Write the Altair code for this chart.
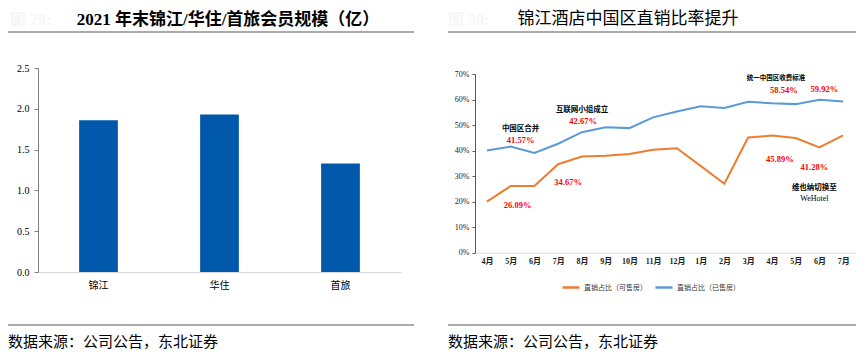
import altair as alt
import pandas as pd

# ---------------- data ----------------
brands = ["锦江", "华住", "首旅"]
members = [1.86, 1.93, 1.33]

months = ["4月", "5月", "6月", "7月", "8月", "9月", "10月", "11月", "12月",
          "1月", "2月", "3月", "4月", "5月", "6月", "7月"]
sellable = [20.0, 26.09, 26.10, 34.67, 37.7, 38.0, 38.7, 40.3, 40.9,
            34.0, 27.0, 45.1, 45.89, 44.9, 41.28, 46.0]
sold = [40.0, 41.57, 39.1, 42.67, 47.2, 49.1, 48.8, 53.0, 55.3,
        57.4, 56.7, 59.1, 58.54, 58.2, 59.92, 59.2]
series_names = ["直销占比（可售房）", "直销占比（已售房）"]
series_colors = ["#ED7D31", "#5B9BD5"]

left_title = "2021 年末锦江/华住/首旅会员规模（亿）"
right_title = "锦江酒店中国区直销比率提升"
source_text = "数据来源：公司公告，东北证券"
left_mark = "图 29:"
right_mark = "图 30:"

SERIF = "Liberation Serif, Noto Sans CJK SC"
CJK = "Noto Sans CJK SC"

# ---------------- left: bar chart ----------------
bar_df = pd.DataFrame({"brand": brands, "members": members})
bars = alt.Chart(bar_df).mark_bar(color="#0058AA").encode(
    x=alt.X("brand:N", sort=brands, title=None,
            scale=alt.Scale(range=[30, 393], paddingInner=0.68, paddingOuter=0.34),
            axis=alt.Axis(orient="bottom", offset=-76, domainColor="#d9d9d9",
                          ticks=False, labelAngle=0, labelFont=SERIF, labelFontSize=10,
                          labelColor="#000000", labelPadding=8)),
    y=alt.Y("members:Q", title=None,
            scale=alt.Scale(domain=[0, 2.5], range=[264, 60], nice=False, zero=True),
            axis=alt.Axis(orient="left", offset=-30, values=[0, 0.5, 1, 1.5, 2, 2.5],
                          format=".1f", grid=False, domainColor="#7f7f7f",
                          tickColor="#7f7f7f", tickSize=4, labelFont=SERIF,
                          labelFontSize=10, labelColor="#000000", labelPadding=5)),
)

# ---------------- right: line chart ----------------
idx = list(range(len(months)))
line_df = pd.DataFrame({
    "idx": idx * 2,
    "pct": [v / 100 for v in sellable] + [v / 100 for v in sold],
    "series": [series_names[0]] * len(idx) + [series_names[1]] * len(idx),
})
label_expr = "[" + ",".join("'%s'" % m for m in months) + "][datum.value]"

xr = alt.X("idx:Q", title=None,
           scale=alt.Scale(domain=[-0.5, 15.5], range=[467, 847], nice=False, zero=False),
           axis=alt.Axis(orient="bottom", offset=-95.3, values=idx, labelExpr=label_expr,
                         grid=False, ticks=False, domainColor="#d9d9d9", labelFont=SERIF,
                         labelFontSize=8, labelFontWeight="bold", labelPadding=5,
                         labelColor="#222222", labelFlush=False, labelOverlap=False))
yr = alt.Y("pct:Q", title=None,
           scale=alt.Scale(domain=[0, 0.7], range=[244.7, 66], nice=False),
           axis=alt.Axis(orient="left", offset=-467, values=[i / 10 for i in range(8)],
                         format=".0%", grid=False, domainColor="#595959",
                         tickColor="#595959", tickSize=3, labelFont=SERIF,
                         labelFontSize=8, labelPadding=3, labelColor="#222222"))

lines = alt.Chart(line_df).mark_line(strokeWidth=2).encode(
    x=xr, y=yr,
    color=alt.Color("series:N",
                    scale=alt.Scale(domain=series_names, range=series_colors),
                    legend=alt.Legend(orient="none", legendX=553, legendY=269.5,
                                      direction="horizontal", title=None,
                                      symbolType="stroke", symbolStrokeWidth=2.5,
                                      symbolSize=289, labelFont=CJK, labelFontSize=7,
                                      labelColor="#333333", labelOffset=3,
                                      columnPadding=3, padding=0)),
)


def note(series, i, text, dx, dy, color="#000000", size=8, weight="bold", font=CJK):
    df = pd.DataFrame({"idx": [i], "pct": [series[i] / 100]})
    return alt.Chart(df).mark_text(
        text=text, dx=dx, dy=dy, color=color, fontSize=size, fontWeight=weight,
        font=font, align="center", baseline="middle").encode(x=xr, y=yr)


def val(series, i, dx, dy):
    return note(series, i, "%.2f%%" % series[i], dx, dy, color="#FF0000",
                size=8.5, weight="bold", font="Liberation Serif")


notes = [
    note(sold, 1, "中国区合并", 10, -17.6, size=7.5),
    val(sold, 1, 10, -6.6),
    note(sold, 3, "互联网小组成立", 24, -34, size=7.5),
    val(sold, 3, 25, -23),
    val(sellable, 3, 10, 18),
    val(sellable, 1, 7, 19),
    note(sold, 12, "统一中国区收费标准", 4, -25, size=6.5),
    val(sold, 12, 12, -13),
    val(sold, 14, 5, -11),
    val(sellable, 12, 8, 23.5),
    val(sellable, 14, -5, 20),
    note(sellable, 14, "维也纳切换至", -5, 41, size=7.5),
    note(sellable, 14, "WeHotel", -5, 52, size=8, weight="normal", font="Liberation Serif"),
]

right = alt.layer(lines, *notes)

# ---------------- decorations (titles, rules, source) ----------------
one = alt.Data(values=[{"k": 1}])


def label(text, x, y, size, weight="normal", align="center", color="#000000", font=CJK):
    return alt.Chart(one).mark_text(
        text=text, fontSize=size, fontWeight=weight, align=align, baseline="middle",
        color=color, font=font).encode(x=alt.value(x), y=alt.value(y))


def hline(x1, x2, y):
    return alt.Chart(one).mark_rule(color="#595959", strokeWidth=1.2).encode(
        x=alt.value(x1), x2=alt.value(x2), y=alt.value(y))


deco = alt.layer(
    label(left_mark, 2, 11.5, 16, weight="bold", align="left", color="#f6f6f6", font=SERIF),
    label(right_mark, 440, 11.5, 16, weight="bold", align="left", color="#f6f6f6", font=SERIF),
    label(left_title, 220, 11.5, 17, weight="bold", font=SERIF),
    label(right_title, 620, 10.5, 17, weight="normal", font=SERIF),
    hline(0, 406, 24),
    hline(440, 848, 24),
    hline(0, 406, 317),
    hline(440, 848, 317),
    label(source_text, 0, 334, 15, align="left"),
    label(source_text, 440, 334, 15, align="left"),
)

chart = alt.layer(bars, right, deco).resolve_scale(
    x="independent", y="independent"
).properties(
    width=850, height=340,
    padding={"left": 0, "top": 0, "right": 0, "bottom": 8},
    autosize=alt.AutoSizeParams(type="none"),
).configure_view(stroke=None)

chart.save("out.html", embed_options={"renderer": "svg", "actions": False})
